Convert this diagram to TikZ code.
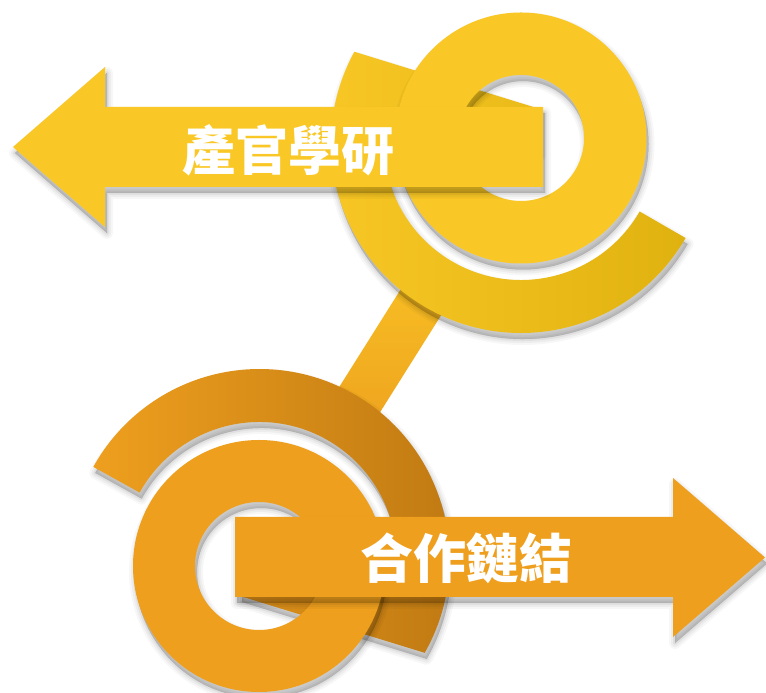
\documentclass[tikz,border=0pt]{standalone}
\usepackage{fontspec}
\newfontfamily\cjk{Noto Sans CJK TC}
\usetikzlibrary{calc}
\definecolor{topY}{RGB}{249,200,38}
\definecolor{topYd}{RGB}{224,178,16}
\definecolor{botO}{RGB}{238,159,30}
\definecolor{botOd}{RGB}{190,120,18}
\definecolor{stemT}{RGB}{248,192,36}
\definecolor{stemB}{RGB}{238,162,31}
\newcommand\softshadow[2][]{%
  \foreach \w/\o in {12/0.03,8/0.04,4/0.05,0.5/0.07}{%
    \path[#1,shift={(2,-6)},draw=black,line width=\w pt,draw opacity=\o,line join=round,fill=black,fill opacity=\o] #2;}}
\def\topC{([shift={(151.3:190)}]521,550) arc[start angle=151.3,end angle=330,radius=190] -- ([shift={(330:137)}]521,550) arc[start angle=330,end angle=195,radius=137] -- (420,533) -- (538,543) -- (538,584.6) -- cycle}
\def\botC{([shift={(-29.6:190)}]259.5,134) arc[start angle=-29.6,end angle=151,radius=190] -- ([shift={(151:137)}]259.5,134) arc[start angle=151,end angle=15,radius=137] -- (360,160) -- (240,148) -- (240,97) -- cycle}
\def\topD{(521,555) circle[radius=125.5] (521,555) circle[radius=63]}
\def\botD{(259,127) circle[radius=126] (259,127) circle[radius=64]}
\def\topA{(13,546) -- (105,626) -- (105,586) -- (543,586) -- (543,506) -- (105,506) -- (105,466) -- cycle}
\def\botA{(765,135.5) -- (673,215) -- (673,176) -- (235,176) -- (235,96) -- (673,96) -- (673,56) -- cycle}
\def\stempath{(456.2,401.7) -- (415.6,427.3) -- (324.3,282.3) -- (364.9,256.7) -- cycle}
\tikzset{
  lbl/.style={text=white,font=\cjk\bfseries\fontsize{53}{53}\selectfont,inner sep=0pt}
}
\begin{document}
\begin{tikzpicture}[x=1pt,y=1pt]
\useasboundingbox (0,0) rectangle (766,693);
\fill[white] (0,0) rectangle (766,693);
% connecting stem
\shade[top color=stemT,bottom color=stemB] \stempath;
% top C band
\softshadow{\topC}
\shade[left color=topY,middle color=topY,right color=topYd] \topC;
% bottom C band
\softshadow{\botC}
\shade[left color=botO,right color=botOd] \botC;
% top donut
\softshadow[even odd rule]{\topD}
\fill[topY,even odd rule] \topD;
% top arrow
\softshadow{\topA}
\fill[topY] \topA;
\node[lbl] (t1) at (288,543) {產官學研};
% bottom donut
\softshadow[even odd rule]{\botD}
\fill[botO,even odd rule] \botD;
% bottom arrow
\softshadow{\botA}
\fill[botO] \botA;
\node[lbl] (t2) at (466,135) {合作鏈結};
\end{tikzpicture}
\end{document}
